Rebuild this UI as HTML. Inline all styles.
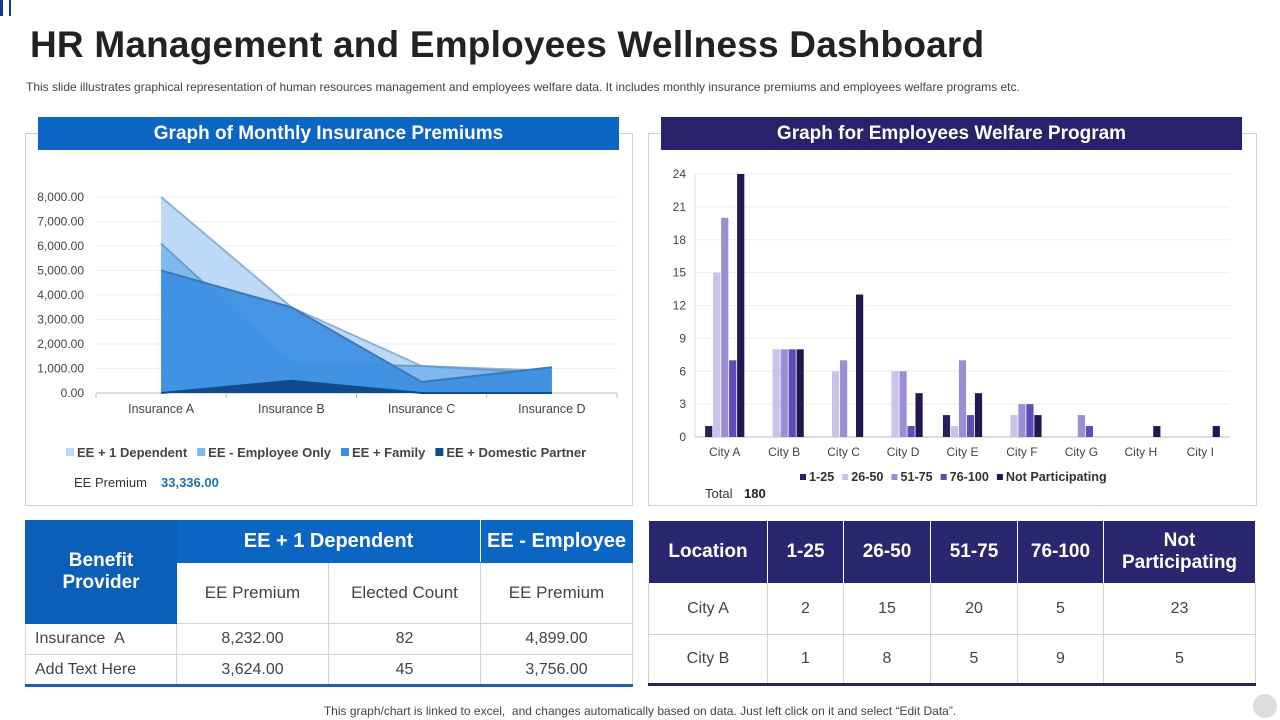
<!DOCTYPE html>
<html><head><meta charset="utf-8">
<style>
*{margin:0;padding:0;box-sizing:border-box}
body{width:1280px;height:720px;background:#fff;font-family:"Liberation Sans",sans-serif;position:relative;overflow:hidden}
.abs{position:absolute}
.title{left:30px;top:24px;font-size:37px;font-weight:bold;color:#222;letter-spacing:0.2px}
.sub{left:26px;top:80px;font-size:12px;color:#444}
.panel{border:1px solid #d0d0d0}
.hdr{color:#fff;font-weight:bold;font-size:19px;text-align:center;line-height:33px}
table{border-collapse:collapse;position:absolute;font-family:"Liberation Sans",sans-serif}
td{text-align:center;border:1px solid #d4d4d4;color:#444}
.foot{left:0;width:1280px;top:704px;font-size:12px;color:#444;text-align:center}
</style></head><body>
<div class="abs" style="left:0;top:0;width:3px;height:16px;background:#1a3a8a"></div>
<div class="abs" style="left:9px;top:0;width:2px;height:16px;background:#1a3a8a"></div>
<div class="abs title">HR Management and Employees Wellness Dashboard</div>
<div class="abs sub">This slide illustrates graphical representation of human resources management and employees welfare data. It includes monthly insurance premiums and employees welfare programs etc.</div>

<div class="abs panel" style="left:25px;top:133px;width:608px;height:373px"></div>
<div class="abs hdr" style="left:38px;top:117px;width:581px;height:33px;background:#0b66c3">Graph of Monthly Insurance Premiums</div>
<div class="abs panel" style="left:648px;top:133px;width:609px;height:373px"></div>
<div class="abs hdr" style="left:661px;top:117px;width:581px;height:33px;background:#27226b">Graph for Employees Welfare Program</div>

<svg class="abs" style="left:0;top:0" width="1280" height="720" id="charts"></svg>

<div class="abs" style="left:74px;top:475px;font-size:13px;color:#333">EE Premium</div>
<div class="abs" style="left:161px;top:475px;font-size:13px;color:#1f6fb5;font-weight:bold">33,336.00</div>
<div class="abs" style="left:705px;top:486px;font-size:13px;color:#333">Total</div>
<div class="abs" style="left:744px;top:486px;font-size:13px;color:#222;font-weight:bold">180</div>

<table style="left:25px;top:520px;width:608px;border-bottom:3px solid #1d5fa8">
<tr style="height:42px"><td rowspan="2" style="width:151px;background:#0b5fb8;color:#fff;font-weight:bold;font-size:19px;border-color:#0b5fb8">Benefit<br>Provider</td>
<td colspan="2" style="background:#0b66c3;color:#fff;font-weight:bold;font-size:20px;border-color:#0b66c3 #fff #0b66c3 #0b66c3">EE + 1 Dependent</td>
<td style="background:#0b66c3;color:#fff;font-weight:bold;font-size:20px;border-color:#0b66c3">EE - Employee</td></tr>
<tr style="height:61px;font-size:17px"><td style="width:152px;font-size:17px">EE Premium</td><td style="width:152px;font-size:17px">Elected Count</td><td style="font-size:17px">EE Premium</td></tr>
<tr style="height:31px;font-size:16px"><td style="text-align:left;padding-left:9px">Insurance &nbsp;A</td><td>8,232.00</td><td>82</td><td>4,899.00</td></tr>
<tr style="height:31px;font-size:16px"><td style="text-align:left;padding-left:9px">Add Text Here</td><td>3,624.00</td><td>45</td><td>3,756.00</td></tr>
</table>

<table style="left:648px;top:520px;width:608px;border-bottom:3px solid #27226b">
<tr style="height:63px;background:#2a2670;color:#fff;font-weight:bold;font-size:19px">
<td style="width:119px;color:#fff;border-color:#fff">Location</td>
<td style="width:76px;color:#fff;border-color:#fff">1-25</td>
<td style="width:87px;color:#fff;border-color:#fff">26-50</td>
<td style="width:87px;color:#fff;border-color:#fff">51-75</td>
<td style="width:86px;color:#fff;border-color:#fff">76-100</td>
<td style="color:#fff;border-color:#fff">Not<br>Participating</td></tr>
<tr style="height:51px;font-size:16px"><td>City A</td><td>2</td><td>15</td><td>20</td><td>5</td><td>23</td></tr>
<tr style="height:50px;font-size:16px"><td>City B</td><td>1</td><td>8</td><td>5</td><td>9</td><td>5</td></tr>
</table>

<div class="abs foot">This graph/chart is linked to excel, &nbsp;and changes automatically based on data. Just left click on it and select “Edit Data”.</div>
<div class="abs" style="left:1253px;top:694px;width:24px;height:24px;border-radius:50%;background:#ddd"></div>

<script>
const insCategories=["Insurance A","Insurance B","Insurance C","Insurance D"];
const insTicks=["0.00","1,000.00","2,000.00","3,000.00","4,000.00","5,000.00","6,000.00","7,000.00","8,000.00"];
const insSeriesNames=["EE + 1 Dependent","EE - Employee Only","EE + Family","EE + Domestic Partner"];
const insDependent=[8000,3500,1100,900];
const insEmployeeOnly=[6100,1200,1100,800];
const insFamily=[5000,3500,450,1050];
const insPartner=[0,500,0,0];

const cityCategories=["City A","City B","City C","City D","City E","City F","City G","City H","City I"];
const cityTicks=[0,3,6,9,12,15,18,21,24];
const citySeriesNames=["1-25","26-50","51-75","76-100","Not  Participating"];
const s1to25=[1,0,0,0,2,0,0,0,0];
const s26to50=[15,8,6,6,1,2,0,0,0];
const s51to75=[20,8,7,6,7,3,2,0,0];
const s76to100=[7,8,0,1,2,3,1,0,0];
const sNotPart=[24,8,13,4,4,2,0,1,1];

const NS="http://www.w3.org/2000/svg";
const svg=document.getElementById('charts');
function mk(tag,attrs,parent){const e=document.createElementNS(NS,tag);for(const k in attrs)e.setAttribute(k,attrs[k]);(parent||svg).appendChild(e);return e;}

const L={x0:96,x1:617,y0:393,y1:197,max:8000};
const ly=v=>L.y0-(v/L.max)*(L.y0-L.y1);
const lstep=(L.x1-L.x0)/insCategories.length;
const lx=i=>L.x0+lstep*(i+0.5);
insTicks.forEach((t,i)=>{const v=i*1000;const y=ly(v);
 const g=mk('line',{x1:L.x0,x2:L.x1,y1:y,y2:y,stroke:i==0?'#bbb':'#eee','stroke-width':1});
 
 const tx=mk('text',{x:84,y:y+4,'text-anchor':'end','font-size':12,fill:'#444'});tx.textContent=t;
 });
insCategories.forEach((c,i)=>{
 const tk=mk('line',{x1:L.x0+lstep*i,x2:L.x0+lstep*i,y1:L.y0,y2:L.y0+5,stroke:'#bbb'});
 
 const tx=mk('text',{x:lx(i),y:413,'text-anchor':'middle','font-size':12.5,fill:'#444'});tx.textContent=c;
 });
mk('line',{x1:L.x1,x2:L.x1,y1:L.y0,y2:L.y0+5,stroke:'#bbb'});
const insSeries=[insDependent,insEmployeeOnly,insFamily,insPartner];
const insFill=['#bcdaf7','#7db8ee','#3d8fe3','#0f4c8e'];
const insStroke=['#8fb2d4','#6c9ccb','#3f78b4','#0f4c8e'];
const insOpacity=[1,1,0.93,1];
insSeries.forEach((s,k)=>{
 let d=`M${lx(0)},${ly(0)}`;s.forEach((v,i)=>d+=` L${lx(i)},${ly(v)}`);d+=` L${lx(s.length-1)},${ly(0)} Z`;
 const p=mk('path',{d:d,fill:insFill[k],'fill-opacity':insOpacity[k]});
 
 let ld='';s.forEach((v,i)=>ld+=(i?' L':'M')+lx(i)+','+ly(v));
 const ln=mk('path',{d:ld,fill:'none',stroke:insStroke[k],'stroke-width':2});
 
});
let lgx=66;
insSeriesNames.forEach((n,k)=>{
 const r=mk('rect',{x:lgx,y:448,width:8,height:8,fill:insFill[k]});
 
 const t=mk('text',{x:lgx+11,y:457,'font-size':13,'font-weight':'bold',fill:'#444'});t.textContent=n;
 
 lgx+=11+t.getComputedTextLength()+10;
});

const R={x0:695,x1:1230,y0:437,y1:174,max:24};
const ry=v=>R.y0-(v/R.max)*(R.y0-R.y1);
const rstep=(R.x1-R.x0)/cityCategories.length;
cityTicks.forEach((t,i)=>{const y=ry(t);
 const g=mk('line',{x1:R.x0,x2:R.x1,y1:y,y2:y,stroke:i==0?'#bbb':'#eee'});
 
 const tx=mk('text',{x:686,y:y+4,'text-anchor':'end','font-size':12,fill:'#444'});tx.textContent=t;
 });
mk('line',{x1:R.x0,x2:R.x0,y1:R.y1,y2:R.y0,stroke:'#ddd'});
const citySeries=[s1to25,s26to50,s51to75,s76to100,sNotPart];
const cityColors=['#26215c','#c8c3e8','#9a8fd5','#5c4db9','#1e1a4f'];
const bw=7.2,bg=0.8;
cityCategories.forEach((c,i)=>{
 const cx=R.x0+rstep*(i+0.5);
 citySeries.forEach((s,k)=>{
  const v=s[i];if(v<=0)return;
  const x=cx-(5*bw+4*bg)/2+k*(bw+bg);
  const r=mk('rect',{x:x,y:ry(v),width:bw,height:R.y0-ry(v),fill:cityColors[k]});
  
 });
 const tx=mk('text',{x:cx,y:456,'text-anchor':'middle','font-size':12,fill:'#444'});tx.textContent=c;
 
});
let rgx=800;
citySeriesNames.forEach((n,k)=>{
 const r=mk('rect',{x:rgx,y:474,width:6,height:6,fill:cityColors[k]});
 
 const t=mk('text',{x:rgx+9,y:481,'font-size':12.6,'font-weight':'bold',fill:'#333'});t.textContent=n;
 
 rgx+=9+t.getComputedTextLength()+8;
});
</script>
</body></html>
